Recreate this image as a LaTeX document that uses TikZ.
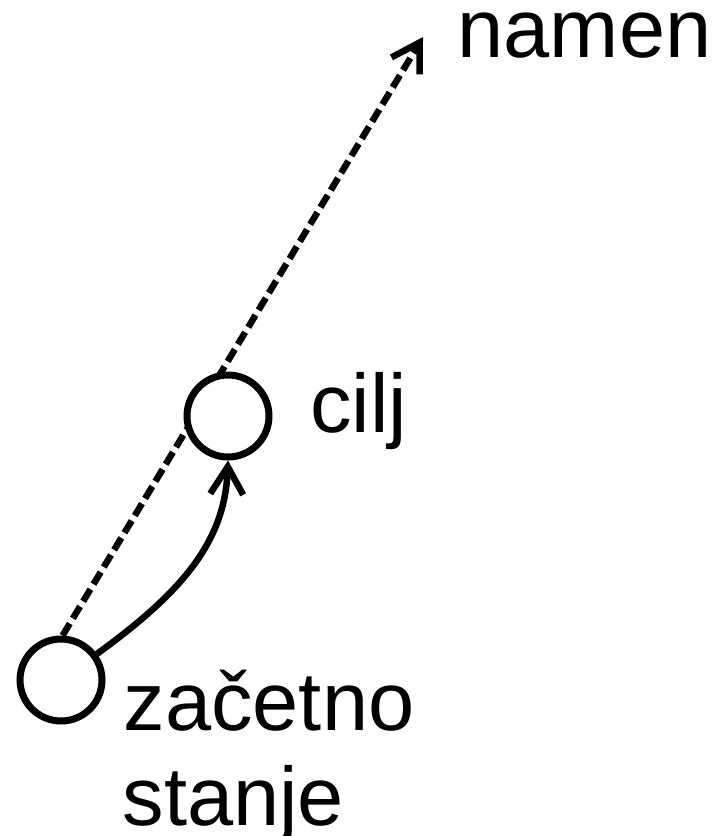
\documentclass[tikz,border=0pt]{standalone}
\usepackage{fontspec}
\setmainfont{Liberation Sans}
\usetikzlibrary{arrows.meta}
\pgfdeclarelayer{bg}
\pgfsetlayers{bg,main}
\begin{document}
\begin{tikzpicture}[x=1pt,y=-1pt,
  state/.style={circle,draw,line width=7pt,fill=white,minimum size=82pt,inner sep=0pt},
  lbl/.style={anchor=base west,inner sep=0pt,font=\fontsize{83}{95}\selectfont},
  barb/.style={-{Straight Barb[angle=62:32pt,line cap=butt,line join=miter]}},
  conn/.style={line width=6.5pt,barb},
  intent/.style={conn,dash pattern=on 14pt off 6pt}]
\useasboundingbox (0,0) rectangle (712,836);
\node[state] (s) at (61,680) {};
\node[state] (c) at (228,416) {};
\coordinate (t) at (423,37);
\node[lbl] (ln) at (457.5,57) {namen};
\node[lbl] (lc) at (310,432) {cilj};
\node[lbl] (lz) at (123.5,730) {začetno};
\node[lbl] (ls) at (122.5,825) {stanje};
\begin{pgfonlayer}{bg}
\draw[intent] (s.88) -- (t);
\end{pgfonlayer}
\draw[conn] (s.36) .. controls (185,590) and (225,540) .. (c.south);
\end{tikzpicture}
\end{document}
